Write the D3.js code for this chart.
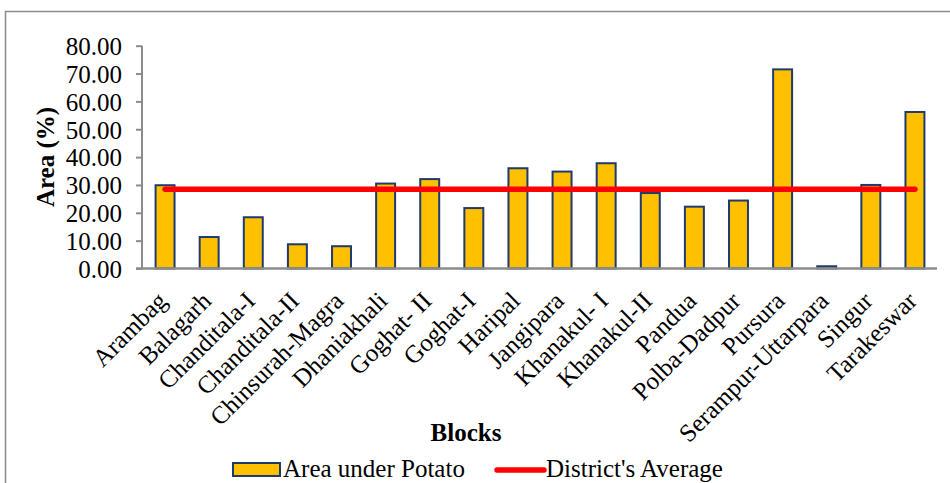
<!DOCTYPE html>
<html><head><meta charset="utf-8">
<script src="https://cdn.jsdelivr.net/npm/d3@7"></script>
<style>body{margin:0;background:#fff}svg{display:block}text{font-family:"Liberation Serif","Times New Roman",serif;fill:#000}</style>
</head><body>
<script>
const categories = ["Arambag","Balagarh","Chanditala-I","Chanditala-II","Chinsurah-Magra","Dhaniakhali","Goghat- II","Goghat-I","Haripal","Jangipara","Khanakul- I","Khanakul-II","Pandua","Polba-Dadpur","Pursura","Serampur-Uttarpara","Singur","Tarakeswar"];
const potatoArea = [29.9,11.3,18.4,8.7,8.0,30.5,32.1,21.7,36.0,34.8,37.8,27.1,22.2,24.4,71.5,0.8,30.0,56.2];
const districtAverage = 28.5;
const yTicks = [0,10,20,30,40,50,60,70,80];

const W=950,H=483, FS="25px";
const svg=d3.select("body").append("svg").attr("width",W).attr("height",H);
svg.append("rect").attr("x",5.5).attr("y",11.5).attr("width",W).attr("height",H).attr("fill","none").attr("stroke","#8c8c8c").attr("stroke-width",1.5);

const x=d3.scaleBand().domain(categories).range([143,937]).paddingInner(0.57).paddingOuter(0.285);
const y=d3.scaleLinear().domain([0,80]).range([268.5,45.7]);

// y axis
const ya=svg.append("g").attr("transform","translate(142,0)").call(d3.axisLeft(y).tickValues(yTicks).tickFormat(d3.format(".2f")).tickSize(6).tickPadding(14));
ya.select(".domain").attr("stroke","#8c8c8c").attr("stroke-width",2).attr("d","M0,45.7V268.5");
ya.selectAll(".tick line").attr("stroke","#8c8c8c").attr("stroke-width",2);
ya.selectAll(".tick text").style("font-size",FS).style("font-family","Liberation Serif").attr("dy","0.35em");

// bars
svg.append("g").selectAll("rect").data(potatoArea).join("rect")
  .attr("x",(d,i)=>x(categories[i]))
  .attr("y",d=>y(d))
  .attr("width",x.bandwidth())
  .attr("height",d=>y(0)-y(d))
  .attr("fill","#FFC000").attr("stroke","#1F3A6E").attr("stroke-width",2);

// x axis line
svg.append("line").attr("x1",136).attr("x2",937).attr("y1",268.5).attr("y2",268.5).attr("stroke","#8c8c8c").attr("stroke-width",2.5);

// average line
const cx=c=>x(c)+x.bandwidth()/2;
svg.append("line").attr("x1",cx(categories[0])).attr("x2",cx(categories[categories.length-1]))
  .attr("y1",y(districtAverage)).attr("y2",y(districtAverage))
  .attr("stroke","#FF0000").attr("stroke-width",5.5).attr("stroke-linecap","round");

// x labels
svg.append("g").selectAll("text").data(categories).join("text")
  .attr("transform",d=>`translate(${cx(d)-9},${290}) rotate(-45)`)
  .attr("text-anchor","end").attr("dy","0.7em")
  .style("font-size",FS).text(d=>d);

// axis titles
svg.append("text").attr("transform","translate(54,157) rotate(-90)").attr("text-anchor","middle")
  .style("font-size",FS).style("font-weight","bold").text("Area (%)");
svg.append("text").attr("x",466).attr("y",441).attr("text-anchor","middle")
  .style("font-size",FS).style("font-weight","bold").text("Blocks");

// legend
const lg=svg.append("g");
lg.append("rect").attr("x",233).attr("y",463).attr("width",47).attr("height",13).attr("fill","#FFC000").attr("stroke","#1F3A6E").attr("stroke-width",2);
lg.append("text").attr("x",283).attr("y",477).style("font-size",FS).text("Area under Potato");
lg.append("line").attr("x1",497).attr("x2",544).attr("y1",470).attr("y2",470).attr("stroke","#FF0000").attr("stroke-width",5.5).attr("stroke-linecap","round");
lg.append("text").attr("x",546).attr("y",477).style("font-size",FS).text("District's Average");
</script>
</body></html>
